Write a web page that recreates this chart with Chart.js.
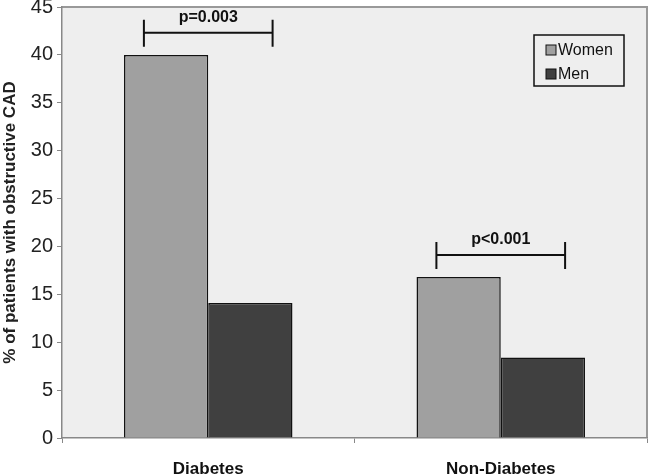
<!DOCTYPE html>
<html>
<head>
<meta charset="utf-8">
<script src="https://cdn.jsdelivr.net/npm/chart.js@4.4.1/dist/chart.umd.min.js"></script>
<style>
  html, body { margin: 0; padding: 0; background: #fff; }
  #wrap { width: 650px; height: 475px; }
</style>
</head>
<body>
<div id="wrap"><canvas id="chart"></canvas></div>
<script>
// data
const groups = ['Diabetes', 'Non-Diabetes'];
const women = [40.0, 16.8];
const men = [14.1, 8.4];
const pLabels = ['p=0.003', 'p<0.001'];
const pLevels = [42.3, 19.1];

const FONT = '"Liberation Sans", Arial, sans-serif';

// grey plot area + top/right frame
const plotBg = {
    id: 'plotBg',
    beforeDraw(chart) {
        const { ctx, chartArea: a } = chart;
        ctx.save();
        ctx.fillStyle = '#eeeeee';
        ctx.fillRect(a.left, a.top, a.right - a.left, a.bottom - a.top);
        ctx.strokeStyle = '#999';
        ctx.lineWidth = 2;
        ctx.beginPath();
        ctx.moveTo(a.left, a.top);
        ctx.lineTo(a.right, a.top);
        ctx.lineTo(a.right, a.bottom);
        ctx.stroke();
        ctx.restore();
    }
};

// significance brackets over each group
const brackets = {
    id: 'brackets',
    afterDatasetsDraw(chart) {
        const { ctx, scales: { x, y } } = chart;
        const catW = x.width / groups.length;
        ctx.save();
        ctx.strokeStyle = '#111';
        ctx.lineWidth = 2;
        ctx.fillStyle = '#111';
        ctx.font = 'bold 16px ' + FONT;
        ctx.textAlign = 'center';
        ctx.textBaseline = 'middle';
        pLabels.forEach((txt, i) => {
            const cx = x.getPixelForValue(i);
            const half = catW * 0.22;
            const py = y.getPixelForValue(pLevels[i]);
            ctx.beginPath();
            ctx.moveTo(cx - half, py);
            ctx.lineTo(cx + half, py);
            ctx.moveTo(cx - half, py - 13);
            ctx.lineTo(cx - half, py + 14);
            ctx.moveTo(cx + half, py - 13);
            ctx.lineTo(cx + half, py + 14);
            ctx.stroke();
            ctx.fillText(txt, cx, py - 15);
        });
        ctx.restore();
    }
};

// boxed legend inside the plot, top right
const boxLegend = {
    id: 'boxLegend',
    afterDraw(chart) {
        const { ctx, chartArea: a } = chart;
        const bx = a.right - 113, by = a.top + 28, bw = 90, bh = 51;
        ctx.save();
        ctx.fillStyle = '#eeeeee';
        ctx.fillRect(bx, by, bw, bh);
        ctx.strokeStyle = '#111';
        ctx.lineWidth = 1.5;
        ctx.strokeRect(bx, by, bw, bh);
        ctx.font = '16px ' + FONT;
        ctx.textBaseline = 'middle';
        chart.data.datasets.forEach((ds, i) => {
            const cy = by + 15 + i * 24;
            ctx.fillStyle = ds.backgroundColor;
            ctx.fillRect(bx + 12, cy - 5, 10, 10);
            ctx.strokeStyle = '#111';
            ctx.lineWidth = 1;
            ctx.strokeRect(bx + 12, cy - 5, 10, 10);
            ctx.fillStyle = '#111';
            ctx.fillText(ds.label, bx + 24, cy + 1);
        });
        ctx.restore();
    }
};

new Chart(document.getElementById('chart'), {
    type: 'bar',
    data: {
        labels: groups,
        datasets: [
            { label: 'Women', data: women, backgroundColor: '#a0a0a0', borderColor: '#111', borderWidth: 1.5 },
            { label: 'Men', data: men, backgroundColor: '#404040', borderColor: '#111', borderWidth: 1.5 }
        ]
    },
    options: {
        responsive: true,
        maintainAspectRatio: false,
        animation: false,
        layout: { padding: { top: 0, right: 3 } },
        datasets: { bar: { categoryPercentage: 0.576, barPercentage: 1.0 } },
        plugins: {
            legend: { display: false },
            tooltip: { enabled: false }
        },
        scales: {
            x: {
                grid: { offset: true, drawOnChartArea: false, tickLength: 5, color: '#888' },
                border: { color: '#888', width: 1.5 },
                ticks: { color: '#111', padding: 16, font: { family: FONT, size: 17, weight: 'bold' } },
                afterFit(s) { s.height = 37; }
            },
            y: {
                min: 0,
                max: 45,
                ticks: { stepSize: 5, color: '#222', padding: 4, font: { family: FONT, size: 20, lineHeight: 0.3 } },
                grid: { drawOnChartArea: false, tickLength: 5, color: '#888' },
                border: { color: '#888', width: 1.5 },
                title: {
                    display: true,
                    text: '% of patients with obstructive CAD',
                    color: '#222',
                    padding: { top: 0, bottom: 0 },
                    font: { family: FONT, size: 17, weight: 'bold' }
                },
                afterFit(s) { s.width = 62; }
            }
        }
    },
    plugins: [plotBg, brackets, boxLegend]
});
</script>
</body>
</html>
